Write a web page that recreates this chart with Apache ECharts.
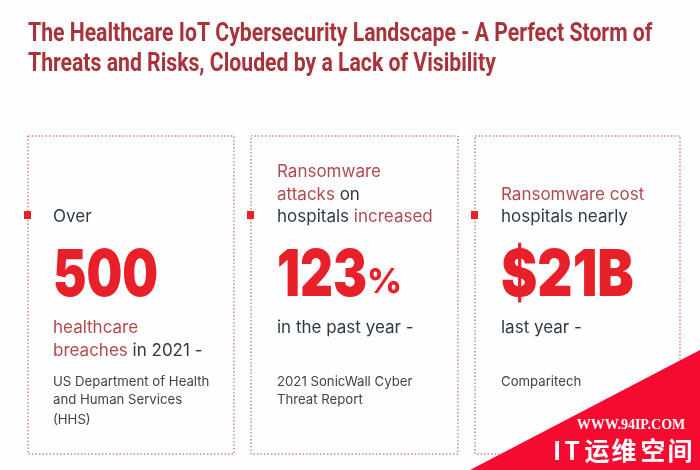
<!DOCTYPE html>
<html>
<head>
<meta charset="utf-8">
<title>Healthcare IoT Cybersecurity</title>
<script src="https://cdn.jsdelivr.net/npm/echarts@6/dist/echarts.min.js"></script>
<style>
html, body { margin: 0; padding: 0; background: #fff; }
#main { width: 700px; height: 470px; }
</style>
</head>
<body>
<div id="main"></div>
<script>
// content
const titleLines = [
    'The Healthcare IoT Cybersecurity Landscape - A Perfect Storm of',
    'Threats and Risks, Clouded by a Lack of Visibility'
];
// {a|..} marks the muted red words
const leadLines = [
    ['Over'],
    ['{a|Ransomware}', '{a|attacks} on', 'hospitals {a|increased}'],
    ['{a|Ransomware cost}', 'hospitals nearly']
];
const bigNumbers = ['500', '123', '$21B'];
const bigSuffixes = ['', '%', ''];
const afterLines = [
    ['{a|healthcare}', '{a|breaches} in 2021 -'],
    ['in the past year -'],
    ['last year -']
];
const sourceLines = [
    ['US Department of Health', 'and Human Services', '(HHS)'],
    ['2021 SonicWall Cyber', 'Threat Report'],
    ['Comparitech']
];
const watermarkUrl = 'WWW.94IP.COM';
const watermarkName = ['I', 'T', '运', '维', '空', '间'];

// layout
const boxLeft = [28, 251, 475];
const boxWidth = [206, 207, 205];
const boxTop = 136, boxHeight = 318;
const textPad = [25, 26, 26];
const leadBottom = 217, lineGap = 22.5;
const numberMid = 276, afterTop = 328;
const sourceTops = [382, 400.5, 420];
const bigScale = [0.775, 0.785, 0.84];
const nameX = [557, 572, 597, 624, 653, 680];

const RED = '#e8202a', MUTED = '#b04a4f', DARK = '#2c3a47', GREY = '#3a4550', TITLE = '#a8333a', WM = '#f50a30';
const FONT = 'Inter, Roboto, sans-serif';

const label = (x, y, text, size, color, extra) => ({
    type: 'text',
    x: x,
    y: y,
    z: 5,
    style: Object.assign({
        text: text,
        fontSize: size,
        fontFamily: FONT,
        fill: color,
        verticalAlign: 'middle',
        align: 'left',
        rich: {
            a: { fontSize: size, fontFamily: FONT, fill: MUTED, fontWeight: 400 }
        }
    }, extra || {})
});

const elements = [];

titleLines.forEach((line, i) => {
    const el = label(28, 34 + i * 30.5, line, 26, TITLE, {
        fontWeight: 700,
        fontFamily: 'Roboto, sans-serif'
    });
    el.scaleX = 0.815;
    elements.push(el);
});

boxLeft.forEach((left, i) => {
    elements.push({
        type: 'rect',
        shape: { x: left, y: boxTop, width: boxWidth[i], height: boxHeight },
        style: { fill: 'transparent', stroke: '#c8484f', lineWidth: 1, lineDash: [1.5, 2] }
    });
    elements.push({
        type: 'rect',
        shape: { x: left - 4, y: 211, width: 7, height: 8 },
        style: { fill: RED }
    });

    const tx = left + textPad[i];
    const lead = leadLines[i];
    lead.forEach((line, j) => {
        elements.push(label(tx, leadBottom - (lead.length - 1 - j) * lineGap, line, 17, DARK));
    });

    const big = label(tx, numberMid, bigNumbers[i], 65, RED, { fontWeight: 900 });
    big.scaleX = bigScale[i];
    elements.push(big);
    if (bigSuffixes[i]) {
        elements.push(label(tx + 90, 283, bigSuffixes[i], 34, RED, { fontWeight: 800 }));
    }

    afterLines[i].forEach((line, j) => {
        elements.push(label(tx, afterTop + j * lineGap, line, 17, DARK));
    });
    sourceLines[i].forEach((line, j) => {
        elements.push(label(tx, sourceTops[j], line, 13.2, GREY));
    });
});

// corner watermark
elements.push({
    type: 'polygon',
    z: 8,
    shape: { points: [[470, 470], [700, 350], [700, 470]] },
    style: { fill: WM }
});
const wmUrl = label(631, 425, watermarkUrl, 14, '#fff', {
    fontFamily: '"Liberation Serif", serif',
    fontWeight: 700,
    align: 'center'
});
wmUrl.z = 9;
elements.push(wmUrl);
watermarkName.forEach((ch, i) => {
    const el = label(nameX[i], 450, ch, 25, '#fff', {
        fontFamily: '"Noto Sans CJK SC", sans-serif',
        fontWeight: 700,
        align: 'center'
    });
    el.z = 9;
    elements.push(el);
});

const chart = echarts.init(document.getElementById('main'));
chart.setOption({
    backgroundColor: '#fefefe',
    animation: false,
    graphic: { elements: elements }
});
</script>
</body>
</html>
